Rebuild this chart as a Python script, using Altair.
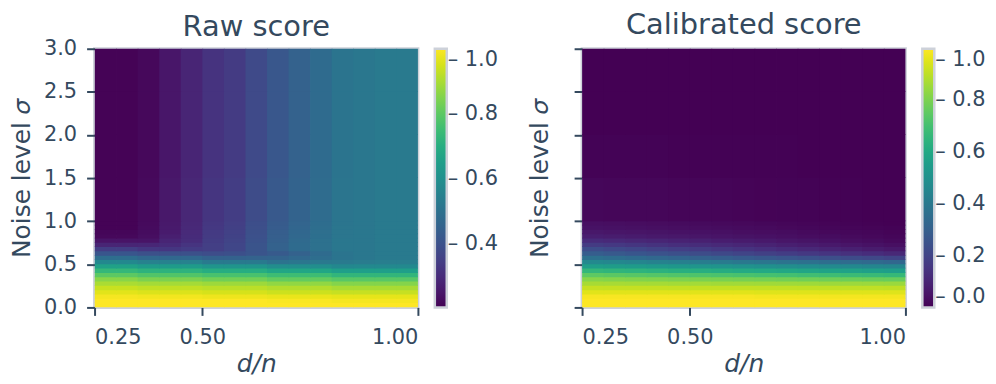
import altair as alt
import pandas as pd

# cell edges of the score grid
dn_edges = [0.25, 0.30, 0.35, 0.40, 0.45, 0.50, 0.55, 0.60, 0.65, 0.70, 0.75,
            0.80, 0.85, 0.90, 0.95, 1.00]
sigma_edges = [0.00, 0.05, 0.10, 0.15, 0.20, 0.25, 0.30, 0.35, 0.40, 0.45, 0.50,
               0.55, 0.60, 0.65, 0.70, 0.75, 0.80, 0.85, 0.90, 0.95, 1.00,
               1.50, 2.00, 2.50, 3.00]

x_ticks = [0.25, 0.50, 1.00]
y_ticks = [0.0, 0.5, 1.0, 1.5, 2.0, 2.5, 3.0]
raw_bar_ticks = [0.4, 0.6, 0.8, 1.0]
cal_bar_ticks = [0.0, 0.2, 0.4, 0.6, 0.8, 1.0]

# rows go from sigma = 0 upward, columns from d/n = 0.25 rightward
raw_score = [
    [1.00, 1.00, 1.00, 1.00, 1.00, 1.00, 1.00, 1.00, 1.00, 1.00, 1.00, 1.00, 1.00, 1.00, 1.00],
    [1.00, 1.00, 1.00, 1.00, 1.00, 1.00, 1.00, 1.00, 0.995, 0.995, 0.995, 0.99, 0.99, 0.99, 0.99],
    [0.99, 0.99, 0.985, 0.985, 0.985, 0.98, 0.98, 0.98, 0.975, 0.975, 0.975, 0.97, 0.97, 0.97, 0.97],
    [0.965, 0.965, 0.957, 0.957, 0.957, 0.95, 0.95, 0.95, 0.94, 0.94, 0.94, 0.932, 0.932, 0.932, 0.932],
    [0.935, 0.935, 0.927, 0.927, 0.927, 0.919, 0.919, 0.919, 0.91, 0.91, 0.91, 0.897, 0.897, 0.897, 0.897],
    [0.90, 0.90, 0.893, 0.893, 0.893, 0.884, 0.884, 0.884, 0.87, 0.87, 0.87, 0.853, 0.853, 0.853, 0.853],
    [0.86, 0.86, 0.843, 0.843, 0.843, 0.829, 0.829, 0.829, 0.81, 0.81, 0.81, 0.794, 0.794, 0.794, 0.794],
    [0.80, 0.80, 0.784, 0.784, 0.784, 0.769, 0.769, 0.769, 0.75, 0.75, 0.75, 0.728, 0.728, 0.728, 0.728],
    [0.735, 0.735, 0.717, 0.717, 0.717, 0.698, 0.698, 0.698, 0.675, 0.675, 0.675, 0.651, 0.651, 0.651, 0.651],
    [0.66, 0.66, 0.64, 0.64, 0.64, 0.618, 0.618, 0.618, 0.593, 0.593, 0.593, 0.575, 0.58, 0.58, 0.58],
    [0.575, 0.575, 0.552, 0.552, 0.552, 0.528, 0.528, 0.528, 0.506, 0.515, 0.526, 0.53, 0.536, 0.542, 0.542],
    [0.49, 0.49, 0.469, 0.469, 0.469, 0.449, 0.449, 0.453, 0.456, 0.472, 0.491, 0.51, 0.52, 0.53, 0.53],
    [0.415, 0.415, 0.397, 0.397, 0.397, 0.387, 0.394, 0.41, 0.427, 0.45, 0.48, 0.51, 0.52, 0.53, 0.53],
    [0.345, 0.345, 0.327, 0.328, 0.341, 0.35, 0.37, 0.41, 0.45, 0.48, 0.50, 0.52, 0.52, 0.53, 0.53],
    [0.285, 0.285, 0.287, 0.30, 0.323, 0.35, 0.37, 0.41, 0.45, 0.48, 0.50, 0.52, 0.52, 0.53, 0.53],
    [0.245, 0.245, 0.245, 0.285, 0.306, 0.345, 0.365, 0.405, 0.445, 0.475, 0.50, 0.52, 0.52, 0.53, 0.53],
    [0.22, 0.22, 0.232, 0.27, 0.30, 0.34, 0.36, 0.40, 0.44, 0.47, 0.494, 0.517, 0.52, 0.53, 0.53],
    [0.215, 0.215, 0.227, 0.26, 0.297, 0.337, 0.357, 0.397, 0.437, 0.467, 0.492, 0.516, 0.52, 0.53, 0.53],
    [0.21, 0.21, 0.225, 0.258, 0.294, 0.333, 0.353, 0.393, 0.433, 0.463, 0.489, 0.515, 0.52, 0.53, 0.53],
    [0.21, 0.21, 0.224, 0.256, 0.292, 0.33, 0.35, 0.39, 0.43, 0.46, 0.487, 0.513, 0.52, 0.53, 0.53],
    [0.21, 0.21, 0.222, 0.253, 0.289, 0.325, 0.345, 0.385, 0.425, 0.455, 0.483, 0.512, 0.52, 0.53, 0.53],
    [0.21, 0.21, 0.22, 0.25, 0.285, 0.32, 0.34, 0.38, 0.42, 0.45, 0.48, 0.51, 0.52, 0.53, 0.53],
    [0.21, 0.21, 0.22, 0.25, 0.285, 0.32, 0.34, 0.38, 0.42, 0.45, 0.48, 0.51, 0.52, 0.53, 0.53],
    [0.21, 0.21, 0.22, 0.25, 0.285, 0.32, 0.34, 0.38, 0.42, 0.45, 0.48, 0.51, 0.52, 0.53, 0.53],
]

calibrated_score = [
    [1.00, 1.00, 1.00, 1.00, 1.00, 1.00, 1.00, 1.00, 1.00, 1.00, 1.00, 1.00, 1.00, 1.00, 1.00],
    [1.00, 1.00, 1.00, 1.00, 1.00, 1.00, 1.00, 1.00, 1.00, 1.00, 1.00, 1.00, 1.00, 1.00, 1.00],
    [0.99, 0.99, 0.99, 0.99, 0.99, 0.99, 0.99, 0.99, 0.985, 0.985, 0.985, 0.985, 0.985, 0.985, 0.985],
    [0.955, 0.955, 0.955, 0.955, 0.955, 0.955, 0.955, 0.955, 0.95, 0.95, 0.95, 0.95, 0.95, 0.95, 0.95],
    [0.915, 0.914, 0.914, 0.913, 0.912, 0.911, 0.911, 0.91, 0.909, 0.909, 0.908, 0.907, 0.906, 0.906, 0.905],
    [0.87, 0.869, 0.867, 0.866, 0.864, 0.863, 0.861, 0.86, 0.859, 0.857, 0.856, 0.854, 0.853, 0.851, 0.85],
    [0.82, 0.816, 0.813, 0.809, 0.806, 0.802, 0.799, 0.795, 0.791, 0.788, 0.784, 0.781, 0.777, 0.774, 0.77],
    [0.75, 0.744, 0.739, 0.733, 0.727, 0.721, 0.716, 0.71, 0.704, 0.699, 0.693, 0.687, 0.681, 0.676, 0.67],
    [0.66, 0.653, 0.646, 0.639, 0.631, 0.624, 0.617, 0.61, 0.603, 0.596, 0.589, 0.581, 0.574, 0.567, 0.56],
    [0.56, 0.552, 0.544, 0.536, 0.529, 0.521, 0.513, 0.505, 0.497, 0.489, 0.481, 0.474, 0.466, 0.458, 0.45],
    [0.47, 0.46, 0.45, 0.44, 0.43, 0.42, 0.41, 0.40, 0.39, 0.38, 0.37, 0.36, 0.35, 0.34, 0.33],
    [0.37, 0.358, 0.346, 0.334, 0.321, 0.309, 0.297, 0.285, 0.273, 0.261, 0.249, 0.236, 0.224, 0.212, 0.20],
    [0.29, 0.277, 0.264, 0.251, 0.239, 0.226, 0.213, 0.20, 0.187, 0.174, 0.161, 0.149, 0.136, 0.123, 0.11],
    [0.23, 0.218, 0.206, 0.194, 0.181, 0.169, 0.157, 0.145, 0.133, 0.121, 0.109, 0.096, 0.084, 0.072, 0.06],
    [0.17, 0.16, 0.151, 0.141, 0.131, 0.122, 0.112, 0.103, 0.093, 0.083, 0.074, 0.064, 0.054, 0.045, 0.035],
    [0.12, 0.113, 0.106, 0.099, 0.091, 0.084, 0.077, 0.07, 0.063, 0.056, 0.049, 0.041, 0.034, 0.027, 0.02],
    [0.08, 0.075, 0.07, 0.065, 0.061, 0.056, 0.051, 0.046, 0.041, 0.036, 0.031, 0.027, 0.022, 0.017, 0.012],
    [0.06, 0.056, 0.053, 0.049, 0.045, 0.041, 0.038, 0.034, 0.03, 0.027, 0.023, 0.019, 0.015, 0.012, 0.008],
    [0.045, 0.042, 0.039, 0.036, 0.033, 0.03, 0.027, 0.025, 0.022, 0.019, 0.016, 0.013, 0.01, 0.007, 0.004],
    [0.035, 0.033, 0.03, 0.028, 0.025, 0.023, 0.02, 0.018, 0.015, 0.013, 0.01, 0.008, 0.005, 0.003, 0.0],
    [0.015, 0.014, 0.013, 0.012, 0.011, 0.01, 0.009, 0.008, 0.006, 0.005, 0.004, 0.003, 0.002, 0.001, 0.0],
    [0.005, 0.005, 0.004, 0.004, 0.003, 0.003, 0.003, 0.003, 0.002, 0.002, 0.001, 0.001, 0.001, 0.0, 0.0],
    [0.0, 0.0, 0.0, 0.0, 0.0, 0.0, 0.0, 0.0, 0.0, 0.0, 0.0, 0.0, 0.0, 0.0, 0.0],
    [0.0, 0.0, 0.0, 0.0, 0.0, 0.0, 0.0, 0.0, 0.0, 0.0, 0.0, 0.0, 0.0, 0.0, 0.0],
]

TEXT = "#34495e"
FRAME = "#cdd1d9"
FONT = "DejaVu Sans"


def cells(grid):
    recs = []
    for i, row in enumerate(grid):
        for j, v in enumerate(row):
            recs.append({"x0": dn_edges[j], "x1": dn_edges[j + 1],
                         "y0": sigma_edges[i], "y1": sigma_edges[i + 1], "v": v})
    return pd.DataFrame(recs)


def panel(grid, title, domain, bar_ticks, show_ylabels, y_title_pad, title_offset):
    scale = alt.Scale(scheme="viridis", domain=domain, nice=False, zero=False)
    legend = alt.Legend(
        type="gradient", direction="vertical", orient="right", title=None,
        values=bar_ticks, format=".1f", gradientLength=260, gradientThickness=12,
        gradientStrokeColor=FRAME, gradientStrokeWidth=2.5,
        labelFontSize=21, labelColor=TEXT, labelFont=FONT, labelOffset=1,
        labelBaseline="middle", labelOverlap=False,
        labelExpr="'\u2013 ' + datum.label",
        offset=17, padding=0,
    )
    return (
        alt.Chart(cells(grid), title=alt.TitleParams(
            title, fontSize=29, font=FONT, fontWeight="normal", color=TEXT,
            anchor="middle", offset=title_offset))
        .mark_rect(x2Offset=0.8, y2Offset=-0.8, clip=True)
        .encode(
            x=alt.X("x0:Q", title="d/n",
                    scale=alt.Scale(domain=[0.25, 1.0], nice=False, zero=False),
                    axis=alt.Axis(values=x_ticks, format=".2f", titleFontStyle="italic",
                                  labelPadding=11, titlePadding=4)),
            x2="x1:Q",
            y=alt.Y("y0:Q", title="Noise level \U0001D70E",
                    scale=alt.Scale(domain=[0, 3], nice=False, zero=False),
                    axis=alt.Axis(values=y_ticks, format=".1f", labels=show_ylabels,
                                  labelPadding=10, titlePadding=y_title_pad)),
            y2="y1:Q",
            color=alt.Color("v:Q", scale=scale, legend=legend),
        )
        .properties(width=325, height=260)
    )


left = panel(raw_score, "Raw score", [0.205, 1.0], raw_bar_ticks, True, 9, -4)
right = panel(calibrated_score, "Calibrated score", [0.0, 1.0], cal_bar_ticks, False, 21, 8)

chart = (
    alt.hconcat(left, right, spacing=25)
    .resolve_scale(color="independent")
    .properties(padding=0)
    .configure(font=FONT)
    .configure_view(stroke=FRAME, strokeWidth=3)
    .configure_axis(
        domain=False, grid=False, tickColor=TEXT, tickWidth=2, tickSize=8,
        labelFontSize=21, labelColor=TEXT, labelFont=FONT,
        titleFontSize=25, titleColor=TEXT, titleFont=FONT, titleFontWeight="normal",
    )
)

chart.save("out.html", embed_options={"renderer": "svg", "actions": False})
